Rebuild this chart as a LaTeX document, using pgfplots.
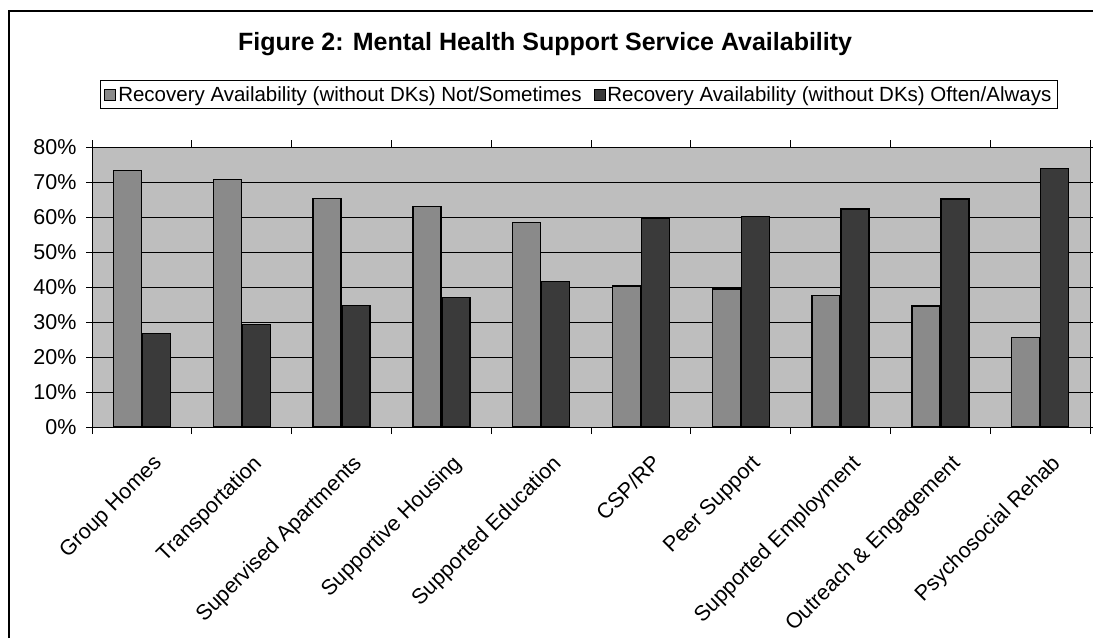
\documentclass[border=0pt]{standalone}
\usepackage{pgfplots}
\pgfplotsset{compat=1.18}
\usepackage{pgfplotstable}
\usepackage{fontspec}
\setmainfont{Liberation Sans}

\definecolor{wallgray}{HTML}{BEBEBE}
\definecolor{lowbar}{HTML}{8A8A8A}
\definecolor{highbar}{HTML}{3A3A3A}

% share of respondents, without "don't know" answers
\pgfplotstableread{
idx low  high
0   73.3 26.7
1   70.7 29.3
2   65.3 34.7
3   63.0 37.0
4   58.4 41.6
5   40.3 59.7
6   39.4 60.2
7   37.5 62.3
8   34.6 65.2
9   25.6 73.8
}\avail

\begin{document}
\begin{tikzpicture}
\useasboundingbox (0,0) rectangle (1093pt,638pt);
\draw[line width=1.3pt] (9pt,0pt) -- (9pt,627pt) -- (1093pt,627pt);
\begin{axis}[
  at={(92pt,211pt)}, anchor=south west,
  scale only axis, width=998pt, height=280pt,
  clip=false,
  ybar=1pt, bar width=28pt,
  xmin=-0.5, xmax=9.5, ymin=0, ymax=80,
  axis background/.style={fill=wallgray},
  axis line style={black, line width=1pt},
  ytick={0,10,...,80},
  yticklabel={\pgfmathprintnumber{\tick}\%},
  /pgf/number format/assume math mode=true,
  ymajorgrids=true,
  major grid style={black, line width=1pt},
  tick align=outside,
  major tick length=6pt,
  minor tick length=7pt,
  y tick style={black, line width=1pt},
  xtick={0,...,9},
  major x tick style={draw=none},
  minor xtick={-0.5,0.5,...,9.5},
  minor x tick style={black, line width=1pt},
  xticklabels={Group Homes, Transportation, Supervised Apartments, Supportive Housing, Supported Education, CSP/RP, Peer Support, Supported Employment, Outreach \& Engagement, Psychosocial Rehab},
  xticklabel style={rotate=45, anchor=north east, xshift=-4pt, yshift=-18pt},
  yticklabel style={xshift=-6pt},
  tick label style={font=\fontsize{21.5}{25}\selectfont},
  legend style={at={(0.008,1.239)}, anchor=north west, draw=black, line width=1pt,
    font=\fontsize{20.5}{24}\selectfont, inner sep=4pt,
    /tikz/every even column/.append style={column sep=10pt}},
  legend columns=2,
  legend image code/.code={\draw[#1, line width=0.8pt] (-1pt,-5.5pt) rectangle (10pt,5.5pt);},
]
\addplot[fill=lowbar, draw=black, line width=1.4pt] table[x=idx, y=low] {\avail};
\addplot[fill=highbar, draw=black, line width=1.4pt] table[x=idx, y=high] {\avail};
\legend{Recovery Availability (without DKs) Not/Sometimes, Recovery Availability (without DKs) Often/Always}
\node[font=\bfseries\fontsize{25}{29}\selectfont, anchor=base] at (rel axis cs:0.454,1.346) {Figure 2: Mental Health Support Service Availability};
\end{axis}
\end{tikzpicture}
\end{document}
